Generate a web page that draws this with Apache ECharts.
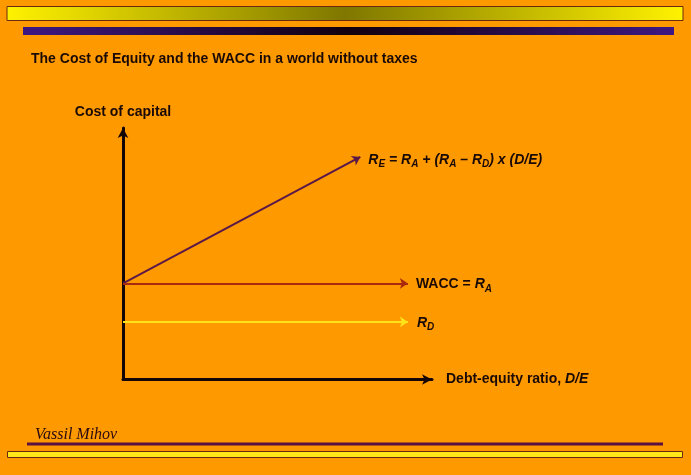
<!DOCTYPE html>
<html>
<head>
<meta charset="utf-8">
<script src="https://cdn.jsdelivr.net/npm/echarts@6/dist/echarts.min.js"></script>
<style>
html,body{margin:0;padding:0;background:#FF9900;}
#c{width:691px;height:475px;}
</style>
</head>
<body>
<div id="c"></div>
<script>
// ---- data (arbitrary units) ----
const curveNames = ['RE', 'WACC', 'RD'];
const startX = [0, 0, 0];
const startY = [3.82, 3.82, 2.29];
const endX   = [7.68, 9.22, 9.22];
const endY   = [8.85, 3.82, 2.29];
const axisMax = [10, 10];

const titleText = 'The Cost of Equity and the WACC in a world without taxes';
const yAxisName = 'Cost of capital';
const xAxisName = ['Debt-equity ratio, ', 'D/E'];
const footerText = 'Vassil Mihov';

const lineColors = ['#5A1848', '#A82810', '#FFE31A'];
const txt = '#1a0a06';

const labelRich = {
  b:  {fontFamily:'Liberation Sans, Arial', fontWeight:'bold', fontSize:14, color:txt},
  i:  {fontFamily:'Liberation Sans, Arial', fontWeight:'bold', fontStyle:'italic', fontSize:14, color:txt},
  s:  {fontFamily:'Liberation Sans, Arial', fontWeight:'bold', fontStyle:'italic', fontSize:10, color:txt, padding:[9,0,0,0]}
};
const labelFormats = [
  '{i|R}{s|E}{i| = R}{s|A}{i| + (R}{s|A}{i| – R}{s|D}{i|) x (D/E)}',
  '{b|WACC = }{i|R}{s|A}',
  '{i|R}{s|D}'
];
const labelOffsets = [[1, 7], [0, 1], [1, 1]];

const chart = echarts.init(document.getElementById('c'));

const series = curveNames.map((n, k) => ({
  type: 'lines',
  name: n,
  coordinateSystem: 'cartesian2d',
  clip: false,
  symbol: ['none', 'arrow'],
  symbolSize: 8,
  lineStyle: {color: lineColors[k], width: 2, opacity: 1, curveness: 0},
  label: {
    show: true, position: 'end', distance: 8, offset: labelOffsets[k],
    formatter: labelFormats[k], rich: labelRich
  },
  data: [{coords: [[startX[k], startY[k]], [endX[k], endY[k]]]}],
  z: 3
}));

chart.setOption({
  backgroundColor: '#FF9900',
  animation: false,
  grid: {left: 123, right: 259, top: 128, bottom: 95.5},
  xAxis: {
    type: 'value', min: 0, max: axisMax[0],
    axisLine: {show: true, lineStyle: {color: '#140606', width: 3}, symbol: ['none', 'arrow'], symbolSize: [8, 10]},
    axisTick: {show: false}, axisLabel: {show: false}, splitLine: {show: false},
    name: '{b|' + xAxisName[0] + '}{i|' + xAxisName[1] + '}',
    nameLocation: 'end', nameGap: 14,
    nameTextStyle: {rich: labelRich}
  },
  yAxis: {
    type: 'value', min: 0, max: axisMax[1],
    axisLine: {show: true, lineStyle: {color: '#140606', width: 3}, symbol: ['none', 'arrow'], symbolSize: [8, 10]},
    axisTick: {show: false}, axisLabel: {show: false}, splitLine: {show: false},
    name: yAxisName, nameLocation: 'end', nameGap: 9,
    nameTextStyle: {fontFamily: 'Liberation Sans, Arial', fontWeight: 'bold', fontSize: 14, color: txt}
  },
  graphic: [
    {type: 'rect', shape: {x: 7, y: 6.5, width: 676, height: 14}, z: 1,
     style: {stroke: '#6a2a10', lineWidth: 1,
       fill: new echarts.graphic.LinearGradient(0, 0, 1, 0, [
         {offset: 0, color: '#FFF200'}, {offset: 0.5, color: '#7F7700'}, {offset: 1, color: '#FFF200'}])}},
    {type: 'rect', shape: {x: 23, y: 27, width: 651, height: 8}, z: 1,
     style: {fill: new echarts.graphic.LinearGradient(0, 0, 1, 0, [
         {offset: 0, color: '#3E1882'}, {offset: 0.5, color: '#12000E'}, {offset: 1, color: '#3E1882'}])}},
    {type: 'text', left: 31, top: 52, z: 2,
     style: {text: titleText, font: 'bold 14px "Liberation Sans", Arial', fill: txt}},
    {type: 'text', left: 35, top: 427, z: 2,
     style: {text: footerText, font: 'italic 16px "Liberation Serif", "Times New Roman", serif', fill: '#2a0a10'}},
    {type: 'rect', shape: {x: 27, y: 442.5, width: 636, height: 3}, z: 1,
     style: {fill: '#5A1040'}},
    {type: 'rect', shape: {x: 7.5, y: 451.5, width: 675, height: 6}, z: 1,
     style: {fill: '#FFE81A', stroke: '#6a2a10', lineWidth: 1}}
  ],
  series: series
});
</script>
</body>
</html>
